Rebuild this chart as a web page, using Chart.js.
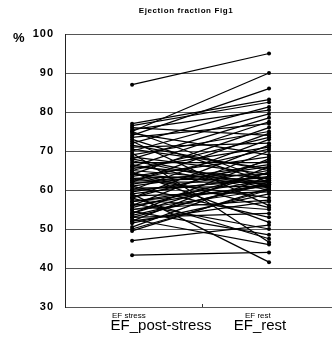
<!DOCTYPE html>
<html>
<head>
<meta charset="utf-8">
<script src="https://cdn.jsdelivr.net/npm/chart.js@4/dist/chart.umd.min.js"></script>
<style>
html,body{margin:0;padding:0;background:#fff;}
#wrap{width:334px;height:338px;position:relative;}
</style>
</head>
<body>
<div id="wrap"><canvas id="c" width="334" height="338"></canvas></div>
<script>
const title = "Ejection fraction Fig1";
const yUnit = "%";
const categories = ["EF_post-stress", "EF_rest"];
const subLabels = ["EF stress", "EF rest"];
const yTicks = [30, 40, 50, 60, 70, 80, 90, 100];

const stress = [87, 75, 74, 77, 76.5, 72, 75.5, 70, 68, 66, 73.5, 64, 69, 62, 76, 60, 71, 58, 65.5, 56,
  74.5, 63.5, 54, 67, 61.5, 52, 70.5, 59.5, 55.5, 68.5, 50.5, 62.5, 57, 65, 53.5, 60.5, 49.5, 66.5, 58.5, 51.5,
  63, 55, 72.5, 57.5, 53, 61, 64.5, 43.3, 47, 56.5, 54.5, 69.5, 52.5, 58, 59, 62, 64, 60, 57, 66, 55, 63, 68,
  73, 71.5, 67.5, 65, 61, 59, 56, 54, 52, 50, 62.5, 64.5, 58, 75, 53];
const rest = [95, 90, 86, 83.2, 82.5, 81.3, 80.5, 79.5, 78.5, 77.5, 77, 76, 75, 74.5, 74, 73, 72, 71.5, 71, 70,
  69, 68.5, 68, 67, 66.5, 66, 65.5, 65, 64.5, 64, 63.5, 63, 62.5, 62, 61.5, 61, 60.5, 60, 59.5, 59,
  58, 57.4, 56, 55, 54, 53, 51.7, 44, 51, 50, 48.5, 46.6, 46, 47.5, 41.5, 62, 61.5, 62.5, 61, 63, 60, 64, 61,
  62, 65, 60.5, 73.5, 66, 63.5, 61.5, 64.5, 57, 60, 70.5, 55.5, 67.5, 62.5, 62];

const datasets = stress.map((s, i) => ({
  data: [{x: 0, y: s}, {x: 1, y: rest[i]}],
  borderColor: '#000',
  backgroundColor: '#000',
  borderWidth: 1.25,
  pointRadius: 2,
  pointHoverRadius: 2,
  pointBorderWidth: 0,
  tension: 0
}));

const textPlugin = {
  id: 'texts',
  beforeDraw(chart) { chart.ctx.letterSpacing = '1px'; },
  beforeDatasetsDraw(chart) { chart.ctx.letterSpacing = '0px'; },
  afterDraw(chart) {
    const ctx = chart.ctx;
    ctx.save();
    ctx.fillStyle = '#000';
    ctx.textBaseline = 'alphabetic';
    ctx.textAlign = 'center';
    ctx.font = 'bold 8px "Liberation Sans", Arial, sans-serif';
    ctx.letterSpacing = '0.6px';
    ctx.fillText(title, 186, 13);
    ctx.letterSpacing = '0px';
    ctx.font = 'bold 13px "Liberation Sans", Arial, sans-serif';
    ctx.textAlign = 'left';
    ctx.fillText(yUnit, 13, 42);
    // small overlapping labels
    ctx.font = '8px "Liberation Sans", Arial, sans-serif';
    ctx.fillText(subLabels[0], 112, 318);
    ctx.fillText(subLabels[1], 245, 318);
    // category labels
    ctx.font = '15px "Liberation Sans", Arial, sans-serif';
    ctx.textAlign = 'center';
    ctx.fillText(categories[0], 161, 330);
    ctx.fillText(categories[1], 260, 330);
    // category boundary tick
    ctx.strokeStyle = '#333';
    ctx.lineWidth = 1;
    ctx.beginPath();
    ctx.moveTo(202.5, chart.chartArea.bottom);
    ctx.lineTo(202.5, chart.chartArea.bottom - 3);
    ctx.stroke();
    ctx.restore();
  }
};

new Chart(document.getElementById('c'), {
  type: 'line',
  data: { datasets },
  options: {
    responsive: false,
    animation: false,
    events: [],
    layout: { padding: { top: 34, bottom: 31, left: 0, right: 0 } },
    plugins: { legend: { display: false }, title: { display: false }, tooltip: { enabled: false } },
    scales: {
      x: { type: 'linear', min: -0.49, max: 1.46, display: false },
      y: {
        min: 30, max: 100,
        afterFit(scale) { scale.width = 65; },
        afterBuildTicks(scale) { scale.ticks = yTicks.map(v => ({ value: v })); },
        ticks: {
          padding: 11,
          color: '#000',
          font: { family: '"Liberation Sans", Arial, sans-serif', size: 11, weight: 'bold' },
          callback: v => String(v)
        },
        grid: { color: '#555', lineWidth: 1, drawTicks: false },
        border: { display: true, color: '#222', width: 1 }
      }
    }
  },
  plugins: [textPlugin]
});
</script>
</body>
</html>
